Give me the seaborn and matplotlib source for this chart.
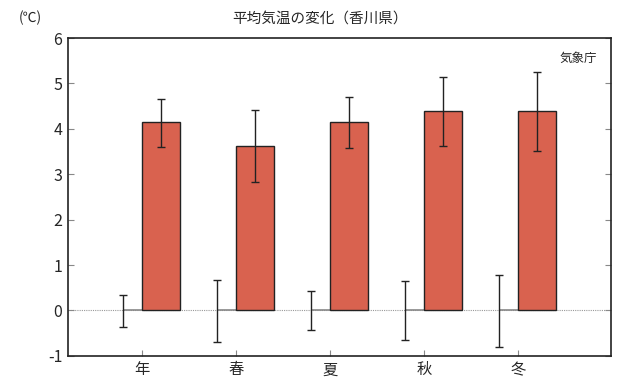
import numpy as np
import pandas as pd
import seaborn as sns
import matplotlib.pyplot as plt

sns.set_style('white')
plt.rcParams['font.family'] = ['Noto Sans CJK JP', 'DejaVu Sans']

seasons = ['年', '春', '夏', '秋', '冬']
# change in mean temperature (future - present) and spread
change = [4.15, 3.63, 4.15, 4.39, 4.39]
change_hi = [4.66, 4.42, 4.71, 5.15, 5.26]
change_lo = [3.61, 2.84, 3.57, 3.63, 3.51]
# present climate (reference = 0) year-to-year spread
base = [0, 0, 0, 0, 0]
base_hi = [0.35, 0.67, 0.43, 0.64, 0.78]
base_lo = [-0.36, -0.69, -0.43, -0.65, -0.81]

pos = np.arange(len(seasons))
df = pd.DataFrame({'x': pos + 0.2, 'val': change})

fig = plt.figure(figsize=(6.4, 3.77), dpi=100)
ax = fig.add_axes([0.106, 0.056, 0.849, 0.843])

ax.axhline(0, color='#999999', lw=0.8, ls=(0, (1, 1)), zorder=0)

sns.barplot(data=df, x='x', y='val', native_scale=True, width=0.4,
            color='#d9624f', saturation=1, edgecolor='#222222', linewidth=1,
            ax=ax, zorder=2)

# short gray segment for the reference value
ax.hlines(base, pos - 0.2, pos, color='#888888', lw=1.2, zorder=1)

ax.errorbar(pos + 0.2, change,
            yerr=[np.array(change) - np.array(change_lo), np.array(change_hi) - np.array(change)],
            fmt='none', ecolor='#222222', elinewidth=1, capsize=3, capthick=1, zorder=3)
ax.errorbar(pos - 0.2, base,
            yerr=[np.array(base) - np.array(base_lo), np.array(base_hi) - np.array(base)],
            fmt='none', ecolor='#222222', elinewidth=1, capsize=3, capthick=1, zorder=3)

ax.set_xlim(-0.79, 4.99)
ax.set_ylim(-1, 6)
ax.set_xticks(pos)
ax.set_xticklabels(seasons, fontsize=11)
ax.set_yticks(range(-1, 7))
ax.set_yticklabels([str(v) for v in range(-1, 7)], fontsize=11.5)
ax.set_xlabel('')
ax.set_ylabel('')
ax.tick_params(axis='both', direction='in', length=4, color='#888888', width=0.8,
               right=True, left=True, bottom=True, pad=4)
for s in ax.spines.values():
    s.set_color('#222222')
    s.set_linewidth(1.2)

fig.text(0.5, 0.952, '平均気温の変化（香川県）', ha='center', va='center', fontsize=10.5)
fig.text(0.03, 0.952, '(℃)', ha='left', va='center', fontsize=10)
ax.text(0.974, 0.955, '気象庁', transform=ax.transAxes, ha='right', va='top', fontsize=9)

fig.savefig('out.png', dpi=100)
